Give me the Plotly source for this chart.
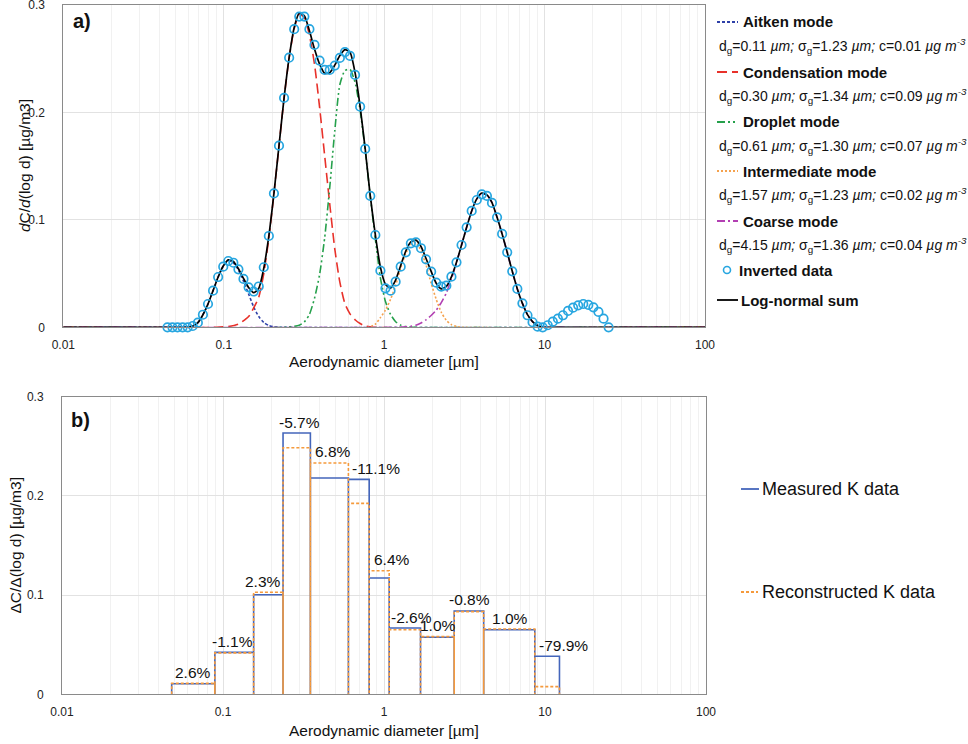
import math
import plotly.graph_objects as go

# ---------------- DATA ----------------
# Panel a: inverted data (circles)
inv_diam = [0.0446, 0.0479, 0.0515, 0.0554, 0.0596, 0.0641, 0.0690, 0.0742, 0.0798, 0.0858,
            0.0923, 0.0993, 0.1068, 0.1148, 0.1235, 0.1328, 0.1429, 0.1537, 0.1653, 0.1777,
            0.1911, 0.2056, 0.2211, 0.2378, 0.2557, 0.2750, 0.2958, 0.3181, 0.3421, 0.3680,
            0.3958, 0.4256, 0.4578, 0.4923, 0.5295, 0.5695, 0.6125, 0.6587, 0.7084, 0.7619,
            0.8194, 0.8813, 0.9478, 1.019, 1.096, 1.179, 1.268, 1.364, 1.467, 1.578,
            1.697, 1.825, 1.963, 2.111, 2.270, 2.442, 2.626, 2.824, 3.037, 3.267,
            3.513, 3.779, 4.064, 4.371, 4.701, 5.056, 5.437, 5.848, 6.289, 6.764,
            7.275, 7.824, 8.415, 9.050, 9.733, 10.47, 11.26, 12.11, 13.02, 14.00,
            15.06, 16.20, 17.42, 18.74, 20.15, 21.67, 23.31, 25.07]
inv_conc = [0, 0, 0, 0, 0, 0.0012, 0.0043, 0.0117, 0.0217, 0.0341,
            0.0468, 0.0564, 0.0617, 0.0601, 0.0540, 0.0450, 0.0372, 0.0333, 0.0380, 0.0559,
            0.0850, 0.1246, 0.1691, 0.2135, 0.2510, 0.2775, 0.2892, 0.2892, 0.2775, 0.2628,
            0.2482, 0.2396, 0.2396, 0.2436, 0.2507, 0.2561, 0.2526, 0.2349, 0.2054, 0.1660,
            0.1223, 0.0859, 0.0527, 0.0363, 0.0341, 0.0425, 0.0564, 0.0698, 0.0782, 0.0791,
            0.0736, 0.0633, 0.0518, 0.0415, 0.0378, 0.0387, 0.0471, 0.0605, 0.0766, 0.0931,
            0.1083, 0.1185, 0.1238, 0.1223, 0.1158, 0.1024, 0.0869, 0.0698, 0.0521, 0.0357,
            0.0223, 0.0112, 0.0047, 0.0006, 0.0, 0.0019, 0.0052, 0.0080, 0.0112, 0.0152,
            0.0183, 0.0205, 0.0217, 0.0208, 0.0186, 0.0143, 0.0080, 0.0]

# Panel a: log-normal sum (black line)
sum_diam = [0.01, 0.0446, 0.0554, 0.0596, 0.0641, 0.0690, 0.0742, 0.0798, 0.0858, 0.0923,
            0.0993, 0.1068, 0.1148, 0.1235, 0.1328, 0.1429, 0.1537, 0.1653, 0.1777, 0.1911,
            0.2056, 0.2211, 0.2378, 0.2557, 0.2750, 0.2958, 0.3181, 0.3421, 0.3680, 0.3958,
            0.4256, 0.4578, 0.4923, 0.5295, 0.5695, 0.6125, 0.6587, 0.7084, 0.7619, 0.8194,
            0.8813, 0.9478, 1.019, 1.096, 1.179, 1.268, 1.364, 1.467, 1.578, 1.697,
            1.825, 1.963, 2.111, 2.270, 2.442, 2.626, 2.824, 3.037, 3.267, 3.513,
            3.779, 4.064, 4.371, 4.701, 5.056, 5.437, 5.848, 6.289, 6.764, 7.275,
            7.824, 8.415, 9.050, 9.733, 10.47, 11.26, 100]
sum_conc = [0, 0, 0, 0.0003, 0.0012, 0.0043, 0.0117, 0.0217, 0.0341, 0.0468,
            0.0570, 0.0628, 0.0612, 0.0545, 0.0455, 0.0370, 0.0322, 0.0362, 0.0550, 0.0850,
            0.1246, 0.1691, 0.2135, 0.2510, 0.2790, 0.2925, 0.2900, 0.2760, 0.2590, 0.2450,
            0.2365, 0.2370, 0.2440, 0.2530, 0.2585, 0.2560, 0.2370, 0.2054, 0.1660, 0.1223,
            0.0859, 0.0560, 0.0400, 0.0365, 0.0440, 0.0575, 0.0710, 0.0795, 0.0812, 0.0752,
            0.0640, 0.0520, 0.0410, 0.0358, 0.0380, 0.0470, 0.0605, 0.0766, 0.0931, 0.1083,
            0.1195, 0.1250, 0.1232, 0.1160, 0.1024, 0.0869, 0.0698, 0.0521, 0.0357, 0.0223,
            0.0118, 0.0052, 0.0016, 0.0003, 0, 0, 0]

# Panel a: individual modes
aitken_diam = [0.01, 0.05, 0.0596, 0.0641, 0.0690, 0.0742, 0.0798, 0.0858, 0.0923, 0.0993,
               0.1068, 0.1148, 0.1235, 0.1328, 0.1429, 0.1537, 0.1653, 0.1777, 0.1911, 0.2056,
               0.23, 100]
aitken_conc = [0, 0, 0.0003, 0.0012, 0.0043, 0.0117, 0.0217, 0.0341, 0.0468, 0.0568,
               0.0620, 0.0600, 0.0533, 0.0430, 0.0310, 0.0190, 0.0100, 0.0045, 0.0016, 0.0004,
               0, 0]

cond_diam = [0.01, 0.09, 0.1068, 0.1235, 0.1429, 0.1537, 0.1653, 0.1777, 0.1911, 0.2056,
             0.2211, 0.2378, 0.2557, 0.2750, 0.2958, 0.3181, 0.3421, 0.3680, 0.3958, 0.4256,
             0.4578, 0.4923, 0.5295, 0.5695, 0.6125, 0.6587, 0.7084, 0.7619, 0.85, 100]
cond_conc = [0, 0, 0.0008, 0.003, 0.010, 0.018, 0.028, 0.050, 0.083, 0.1242,
             0.1690, 0.2133, 0.2508, 0.2780, 0.2915, 0.2880, 0.2720, 0.2450, 0.2050, 0.1600,
             0.1150, 0.0730, 0.0420, 0.0220, 0.0125, 0.0070, 0.0035, 0.0012, 0, 0]

drop_diam = [0.01, 0.24, 0.2958, 0.3181, 0.3421, 0.3680, 0.3958, 0.4256, 0.4578, 0.4923,
             0.5295, 0.5695, 0.6125, 0.6587, 0.7084, 0.7619, 0.8194, 0.8813, 0.9478, 1.019,
             1.096, 1.179, 1.268, 1.364, 1.5, 100]
drop_conc = [0, 0, 0.002, 0.005, 0.012, 0.027, 0.049, 0.083, 0.130, 0.183,
             0.226, 0.239, 0.240, 0.228, 0.202, 0.165, 0.122, 0.082, 0.046, 0.024,
             0.012, 0.0052, 0.002, 0.0006, 0, 0]

inter_diam = [0.01, 0.80, 0.8813, 0.9478, 1.019, 1.096, 1.179, 1.268, 1.364, 1.467,
              1.578, 1.697, 1.825, 1.963, 2.111, 2.270, 2.442, 2.626, 2.824, 3.1, 100]
inter_conc = [0, 0, 0.003, 0.009, 0.016, 0.026, 0.039, 0.055, 0.069, 0.077,
              0.079, 0.071, 0.058, 0.041, 0.026, 0.014, 0.0065, 0.0025, 0.0008, 0, 0]

coarse_diam = [0.01, 1.2, 1.364, 1.467, 1.578, 1.697, 1.825, 1.963, 2.111, 2.270,
               2.442, 2.626, 2.824, 3.037, 3.267, 3.513, 3.779, 4.064, 4.371, 4.701,
               5.056, 5.437, 5.848, 6.289, 6.764, 7.275, 7.824, 8.415, 9.050, 9.733,
               10.5, 100]
coarse_conc = [0, 0, 0.0005, 0.001, 0.002, 0.004, 0.007, 0.011, 0.016, 0.023,
               0.032, 0.045, 0.060, 0.0766, 0.0931, 0.1083, 0.1195, 0.1250, 0.1232, 0.1160,
               0.1024, 0.0869, 0.0698, 0.0521, 0.0357, 0.0223, 0.0118, 0.0052, 0.0016, 0.0003,
               0, 0]

mode_names = ["Aitken mode", "Condensation mode", "Droplet mode", "Intermediate mode", "Coarse mode"]
mode_dg = ["0.11", "0.30", "0.61", "1.57", "4.15"]
mode_sg = ["1.23", "1.34", "1.30", "1.23", "1.36"]
mode_c = ["0.01", "0.09", "0.07", "0.02", "0.04"]

# Panel b: impactor stages
stage_edges = [0.048, 0.089, 0.155, 0.236, 0.349, 0.601, 0.809, 1.077, 1.686, 2.73, 4.16, 8.64, 12.3]
measured_k = [0.0107, 0.0423, 0.1004, 0.2634, 0.2180, 0.2167, 0.1172, 0.0668, 0.0575, 0.0840, 0.0651, 0.0383]
reconstructed_k = [0.0110, 0.0418, 0.1028, 0.2486, 0.2332, 0.1925, 0.1246, 0.0650, 0.0581, 0.0833, 0.0658, 0.0077]
diff_labels = ["2.6%", "-1.1%", "2.3%", "-5.7%", "6.8%", "-11.1%", "6.4%", "-2.6%", "1.0%", "-0.8%", "1.0%", "-79.9%"]

x_tick_vals = [0.01, 0.1, 1, 10, 100]
x_tick_text = ["0.01", "0.1", "1", "10", "100"]
y_tick_vals = [0, 0.1, 0.2, 0.3]
y_tick_text = ["0", "0.1", "0.2", "0.3"]

# ---------------- STYLE ----------------
W, H = 968, 744
FONT = "Liberation Sans, Arial, Helvetica, sans-serif"
C_AIT, C_CON, C_DRO, C_INT, C_COA = "#2e40a8", "#e8312a", "#25a04b", "#f5a24e", "#b23fb2"
C_CIRC, C_SUM = "#27a6e0", "#000000"
C_MEAS, C_REC = "#4466bb", "#f59a3c"
D_AIT, D_CON, D_DRO, D_INT, D_COA = "3px,2px", "10px,5px", "8px,3px,2px,3px,2px,3px", "2px,2px", "8px,3px,2px,3px"
mode_styles = [(C_AIT, D_AIT), (C_CON, D_CON), (C_DRO, D_DRO), (C_INT, D_INT), (C_COA, D_COA)]
mode_series = [(aitken_diam, aitken_conc), (cond_diam, cond_conc), (drop_diam, drop_conc),
               (inter_diam, inter_conc), (coarse_diam, coarse_conc)]


def PX(x):
    return x / W


def PY(y):
    return 1 - y / H


fig = go.Figure()

# ---- panel a traces ----
for name, (xd, yd), (col, dash) in zip(mode_names, mode_series, mode_styles):
    fig.add_trace(go.Scatter(x=xd, y=yd, mode="lines", name=name,
                             line=dict(color=col, dash=dash, width=1.6, shape="spline", smoothing=0.6),
                             cliponaxis=False, showlegend=False, xaxis="x", yaxis="y"))
fig.add_trace(go.Scatter(x=sum_diam, y=sum_conc, mode="lines", name="Log-normal sum",
                         line=dict(color=C_SUM, width=1.7, shape="spline", smoothing=0.6),
                         cliponaxis=False, showlegend=False, xaxis="x", yaxis="y"))
fig.add_trace(go.Scatter(x=inv_diam, y=inv_conc, mode="markers", name="Inverted data",
                         marker=dict(symbol="circle-open", size=8.5, color=C_CIRC, line=dict(width=1.7, color=C_CIRC)),
                         cliponaxis=False, showlegend=False, xaxis="x", yaxis="y"))

# ---- panel b traces ----
def step_path(edges, vals):
    xs, ys = [], []
    for i, v in enumerate(vals):
        xs += [edges[i], edges[i], edges[i + 1], edges[i + 1]]
        ys += [0, v, v, 0]
    return xs, ys

mx, my = step_path(stage_edges, measured_k)
rx, ry = step_path(stage_edges, reconstructed_k)
fig.add_trace(go.Scatter(x=mx, y=my, mode="lines", name="Measured K data",
                         line=dict(color=C_MEAS, width=1.6), showlegend=False, xaxis="x2", yaxis="y2"))
fig.add_trace(go.Scatter(x=rx, y=ry, mode="lines", name="Reconstructed K data",
                         line=dict(color=C_REC, width=1.6, dash="3px,2px"), showlegend=False,
                         xaxis="x2", yaxis="y2"))

annotations = []
label_dx = [0, -2, -5, 3, 4, 17, 13, 7, 1, 1, 1, 16]
for i, lab in enumerate(diff_labels):
    xc = math.log10(math.sqrt(stage_edges[i] * stage_edges[i + 1]))
    annotations.append(dict(x=xc, y=max(measured_k[i], reconstructed_k[i]), xref="x2", yref="y2",
                            text=lab, showarrow=False, yshift=11, xshift=label_dx[i],
                            xanchor="center", yanchor="middle",
                            font=dict(size=15.5, color="#111", family=FONT)))

# ---- axes ----
minor_vals = [m * 10 ** e for e in range(-2, 2) for m in range(2, 10)]
xcommon = dict(type="log", range=[-2, 2], tickvals=x_tick_vals, ticktext=x_tick_text,
               showgrid=True, gridcolor="#e2e2e2", gridwidth=1,
               minor=dict(tickvals=minor_vals, showgrid=True, gridcolor="#f1f1f1", gridwidth=1),
               showline=True, linecolor="#8a8a8a", linewidth=1, mirror=True, zeroline=False,
               ticks="", ticklabelstandoff=6, tickfont=dict(size=12, color="#222", family=FONT),
               automargin=False, ticklabeloverflow="allow")
ycommon = dict(range=[0, 0.3], tickvals=y_tick_vals, ticktext=y_tick_text,
               showgrid=True, gridcolor="#e2e2e2", gridwidth=1,
               showline=True, linecolor="#8a8a8a", linewidth=1, mirror=True, zeroline=False,
               ticks="", ticklabelstandoff=15, tickfont=dict(size=12, color="#222", family=FONT),
               automargin=False, ticklabeloverflow="allow")

fig.update_layout(
    width=W, height=H, margin=dict(l=0, r=0, t=0, b=0),
    paper_bgcolor="white", plot_bgcolor="white",
    font=dict(family=FONT, color="#111"),
    xaxis=dict(domain=[PX(63.3), PX(705)], anchor="y", **xcommon),
    yaxis=dict(domain=[PY(327.3), PY(5)], anchor="x", **ycommon),
    xaxis2=dict(domain=[PX(62), PX(706)], anchor="y2", **xcommon),
    yaxis2=dict(domain=[PY(694.3), PY(396.7)], anchor="x2", **ycommon),
    showlegend=False,
)


def note(x, y, text, size, xanchor="center", angle=0):
    return dict(x=PX(x), y=PY(y), xref="paper", yref="paper", text=text, showarrow=False,
                xanchor=xanchor, yanchor="middle", textangle=angle,
                font=dict(size=size, family=FONT, color="#111"))


# axis titles and panel labels
annotations += [
    note(384, 361.7, "Aerodynamic diameter [µm]", 15.5),
    note(384, 730, "Aerodynamic diameter [µm]", 15.5),
    note(24, 166, "<i>d</i>C/<i>d</i>(log d) [µg/m3]", 15.5, angle=-90),
    note(15, 545.5, "ΔC/Δ(log d) [µg/m3]", 15.5, angle=-90),
    note(71, 21, "<b>a)</b>", 20, xanchor="left"),
    note(69, 420, "<b>b)</b>", 20, xanchor="left"),
]

shapes = []
# ---- manual legend, panel a ----
leg_y = [22, 72, 122, 171, 221]
for name, dg, sg, c, (col, dash), yy in zip(mode_names, mode_dg, mode_sg, mode_c, mode_styles, leg_y):
    shapes.append(dict(type="line", xref="paper", yref="paper", x0=PX(717), x1=PX(738),
                       y0=PY(yy), y1=PY(yy), line=dict(color=col, width=1.8, dash=dash)))
    annotations.append(note(741, yy, "<b>" + name + "</b>", 15, xanchor="left"))
    sub = ("d<sub>g</sub>=" + dg + " <i>µm;</i> σ<sub>g</sub>=" + sg + " <i>µm;</i> c=" + c +
           " <i>µg m<sup>-3</sup></i>")
    annotations.append(note(717, yy + 24, sub, 14, xanchor="left"))
shapes.append(dict(type="circle", xref="paper", yref="paper", x0=PX(723.5), x1=PX(730.5),
                   y0=PY(273.5), y1=PY(266.5), line=dict(color=C_CIRC, width=1.6)))
annotations.append(note(737, 270, "<b>Inverted data</b>", 15, xanchor="left"))
shapes.append(dict(type="line", xref="paper", yref="paper", x0=PX(717), x1=PX(738),
                   y0=PY(300), y1=PY(300), line=dict(color=C_SUM, width=1.8)))
annotations.append(note(739, 300, "<b>Log-normal sum</b>", 15, xanchor="left"))

# ---- manual legend, panel b ----
shapes.append(dict(type="line", xref="paper", yref="paper", x0=PX(741), x1=PX(759),
                   y0=PY(489), y1=PY(489), line=dict(color=C_MEAS, width=1.8)))
annotations.append(note(760, 489, "Measured K data", 18, xanchor="left"))
shapes.append(dict(type="line", xref="paper", yref="paper", x0=PX(741), x1=PX(758),
                   y0=PY(592), y1=PY(592), line=dict(color=C_REC, width=1.8, dash="3px,2px")))
annotations.append(note(760, 592, "Reconstructed K data", 18, xanchor="left"))

fig.update_layout(annotations=annotations, shapes=shapes)
fig.write_html("out.html", config={"displayModeBar": False},
               post_script="document.body.style.margin='0';document.body.style.overflow='hidden';")
